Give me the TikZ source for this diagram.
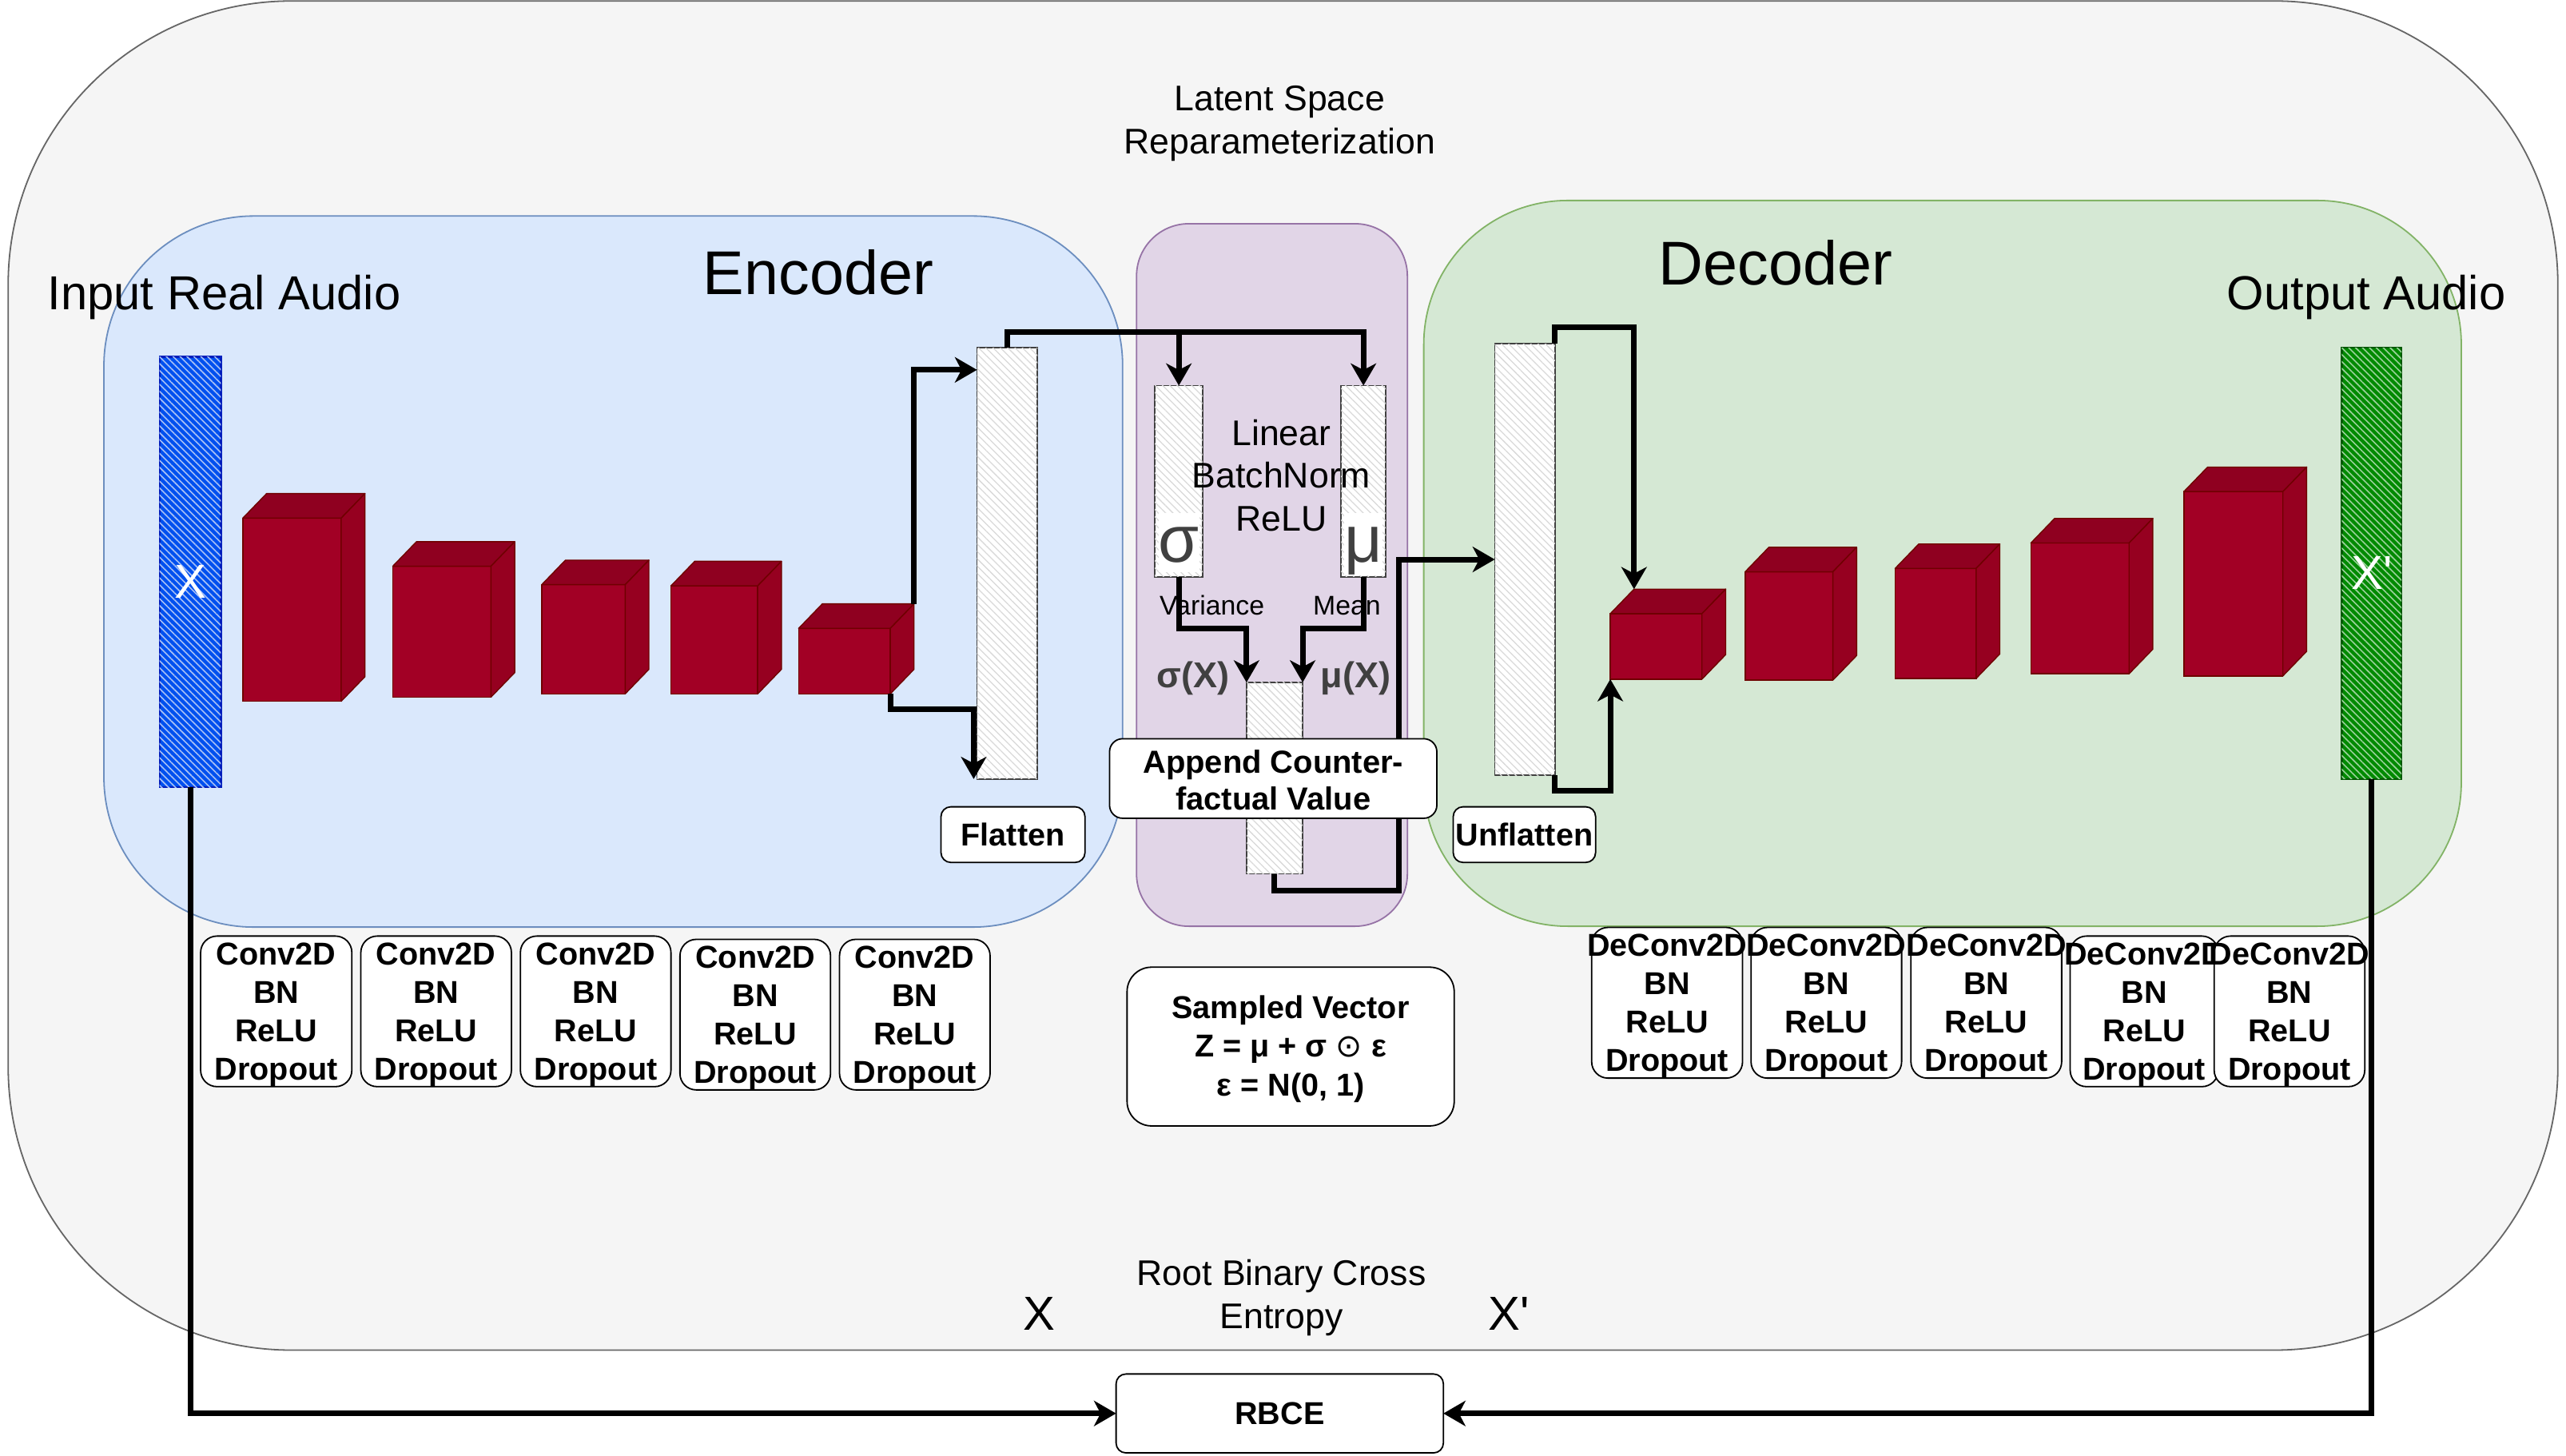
\documentclass[tikz,border=0pt]{standalone}
\usepackage{fontspec}
\setmainfont{Liberation Sans}[Ligatures=TeXOff]
\newfontfamily\dejavu{DejaVu Sans}
\usetikzlibrary{arrows.meta,patterns.meta,fit,calc}
\definecolor{outerF}{HTML}{F5F5F5}\definecolor{outerD}{HTML}{666666}
\definecolor{encF}{HTML}{DAE8FC}\definecolor{encD}{HTML}{6C8EBF}
\definecolor{latF}{HTML}{E1D5E7}\definecolor{latD}{HTML}{9673A6}
\definecolor{decF}{HTML}{D5E8D4}\definecolor{decD}{HTML}{82B366}
\definecolor{xF}{HTML}{0050EF}\definecolor{xD}{HTML}{001DBC}\definecolor{xL}{HTML}{A8C0F5}
\definecolor{xpF}{HTML}{008A00}\definecolor{xpD}{HTML}{005700}\definecolor{xpL}{HTML}{9AD09A}
\definecolor{cubeF}{HTML}{A20025}\definecolor{cubeT}{HTML}{8F0020}\definecolor{cubeS}{HTML}{960020}\definecolor{cubeD}{HTML}{6F0000}
\definecolor{gtxt}{HTML}{404040}
\newcommand\redcube[5]{%
  \node[cubefront, fit={(#2,#3)(#4,#5)}] (#1) {};
  \coordinate (#1-tl) at ($(#1.north west)+(14.5,-15)$);
  \coordinate (#1-tr) at ($(#1.north east)+(14.5,-15)$);
  \coordinate (#1-br) at ($(#1.south east)+(14.5,-15)$);
  \filldraw[cubetop] (#1.north west) -- (#1-tl) -- (#1-tr) -- (#1.north east) -- cycle;
  \filldraw[cubeside] (#1.north east) -- (#1-tr) -- (#1-br) -- (#1.south east) -- cycle;
}
\begin{document}
\begin{tikzpicture}[x=0.02cm,y=-0.02cm,
  region/.style={draw, line width=0.5pt, inner sep=0, outer sep=0},
  hatchcol/.style={draw=black!75, line width=0.5pt, fill=white, inner sep=0, outer sep=0,
    postaction={pattern={Lines[angle=-45,distance=1.8pt,line width=0.35pt]}, pattern color=black!15}},
  bar/.style={line width=0.6pt, inner sep=0, outer sep=0},
  barhatch/.style={postaction={pattern={Lines[angle=-45,distance=1.7pt,line width=0.45pt]}, pattern color=#1}},
  cubefront/.style={fill=cubeF, draw=cubeD, line width=0.4pt, inner sep=0, outer sep=0},
  cubetop/.style={fill=cubeT, draw=cubeD, line width=0.4pt, line join=round},
  cubeside/.style={fill=cubeS, draw=cubeD, line width=0.4pt, line join=round},
  wbox/.style={draw=black, line width=0.5pt, fill=white, inner sep=0, outer sep=0, rounded corners=#1},
  wbox/.default=0.2cm,
  f12/.style={font=\fontsize{12.4}{14.8}\selectfont, align=center, inner sep=0},
  fb/.style={font=\bfseries\fontsize{11}{13.4}\selectfont, align=center, inner sep=0},
  ftitle/.style={font=\fontsize{21.5}{25}\selectfont, inner sep=0},
  fio/.style={font=\fontsize{16.6}{20}\selectfont, inner sep=0},
  conn/.style={draw=black, line width=1.95pt, -{Stealth[length=0.27cm,width=0.31cm,inset=0.08cm]}}
]
\useasboundingbox (0,0) rectangle (1568,889.24);
% regions
\node[region, draw=outerD, fill=outerF, rounded corners=3.46cm, fit={(5,0.6)(1563,825)}] (outer) {};
\node[region, draw=encD, fill=encF, rounded corners=1.83cm, fit={(63.5,132)(686,566.5)}] (encreg) {};
\node[region, draw=latD, fill=latF, rounded corners=0.64cm, fit={(694.5,136.7)(860,566)}] (latreg) {};
\node[region, draw=decD, fill=decF, rounded corners=1.76cm, fit={(870,122.5)(1504,566)}] (decreg) {};
% region titles
\node[f12] (lat) at (782,75.5) {Latent Space\\Reparameterization};
\node[ftitle, anchor=base] (enc) at (500,180) {Encoder};
\node[ftitle, anchor=base] (dec) at (1085,174.3) {Decoder};
\node[fio, anchor=base] (inp) at (137,189) {Input Real Audio};
\node[fio, anchor=base] (outp) at (1446,189) {Output Audio};
% audio bars
\node[bar, fill=xF, draw=xD, barhatch=xL, fit={(97.5,218)(135,481)}] (xbar) {};
\node[bar, fill=xpF, draw=xpD, barhatch=xpL, fit={(1431,212.5)(1467.5,476)}] (xpbar) {};
\node[fio, text=white, anchor=base] (xin) at (116.5,365.6) {X};
\node[fio, text=white, anchor=base] (xout) at (1449.5,360) {X'};
% hatched columns
\node[hatchcol, fit={(597,212.5)(634,476)}] (flat) {};
\node[hatchcol, fit={(705.7,235.6)(735,352.5)}] (sig) {};
\node[hatchcol, fit={(819.5,235.6)(846.8,352.5)}] (mu) {};
\node[hatchcol, fit={(761.7,417)(796,534)}] (app) {};
\node[hatchcol, fit={(913.4,210)(950.2,473.7)}] (unfl) {};
% sigma / mu glyphs
\node[fill=white, inner sep=0, minimum width=0.46cm, text height=0.6cm, text depth=0.12cm, anchor=base, text=gtxt, font=\fontsize{23}{26}\selectfont] (sgl) at (720.3,343.5) {σ};
\node[fill=white, inner sep=0, minimum width=0.46cm, text height=0.6cm, text depth=0.16cm, anchor=base, text=gtxt, font=\fontsize{23}{26}\selectfont] (mgl) at (833,343.5) {μ};
\node[f12] (lin) at (783,290.5) {Linear\\BatchNorm\\ReLU};
\node[font=\fontsize{9.4}{11}\selectfont, inner sep=0, anchor=base] (var) at (740.6,375.7) {Variance};
\node[font=\fontsize{9.4}{11}\selectfont, inner sep=0, anchor=base] (mean) at (823,375.7) {Mean};
\node[font=\bfseries\fontsize{12.5}{15}\selectfont, text=gtxt, inner sep=0, anchor=base] (sx) at (729,420) {σ(X)};
\node[font=\bfseries\fontsize{12.5}{15}\selectfont, text=gtxt, inner sep=0, anchor=base] (mx) at (828.5,420) {μ(X)};
% cubes
\redcube{e1}{148.4}{316.6}{208.5}{428.5}
\redcube{e2}{240}{346}{300}{426}
\redcube{e3}{331}{357.3}{382}{424}
\redcube{e4}{410}{358}{463}{424}
\redcube{e5}{488}{384}{544}{424}
\redcube{d1}{984}{375}{1040}{415}
\redcube{d2}{1066.4}{349.4}{1120}{415.6}
\redcube{d3}{1158}{347.4}{1207.5}{414.6}
\redcube{d4}{1241}{331.8}{1301}{411.7}
\redcube{d5}{1334.5}{300.4}{1395}{413}
% arrows
\coordinate (tl) at ($(flat.north)+(0,-9.8)$);
\draw[conn] (e5-tr) |- ($(flat.north west)+(0,13.5)$);
\draw[conn] (e5.south east) -- ++(0,9.6) -| ($(flat.south west)+(-2,0)$);
\draw[conn] (flat.north) -- (tl) -| (mu.north);
\draw[conn] (sig.north |- tl) -- (sig.north);
\draw[conn] (sig.south) -- ++(0,31.5) -| (app.north west);
\draw[conn] (mu.south) -- ++(0,31.5) -| (app.north east);
\draw[conn] (app.south) -- ++(0,10) -| ($(unfl.west)+(-58.6,0)$) -- (unfl.west);
\draw[conn] (unfl.north east) -- ++(0,-10) -| (d1-tl);
\draw[conn] (unfl.south east) -- ++(0,9.3) -| (d1.south west);
% label boxes
\node[wbox=0.16cm, fit={(678,451.4)(878,500)}] (appbox) {};
\node[fb, font=\bfseries\fontsize{11.1}{13}\selectfont] (appt) at ($(appbox.center)+(0,1)$) {Append Counter-\\factual Value};
\node[wbox=0.12cm, fit={(575,493)(663,527)}] (flbox) {};
\node[fb] (flt) at (flbox.center) {Flatten};
\node[wbox=0.12cm, fit={(888,493)(975,527)}] (ufbox) {};
\node[fb] (uft) at (ufbox.center) {Unflatten};
\foreach \n/\a/\b/\t/\u in {1/122.6/215/572/664, 2/220.5/312.5/572/664, 3/318/410/572/664, 4/415.5/507.5/574/666, 5/513/605/574/666}{
  \node[wbox, fit={(\a,\t)(\b,\u)}] (cv\n) {};
  \node[fb] (cvt\n) at ($(cv\n.center)+(0,2)$) {Conv2D\\BN\\ReLU\\Dropout};
}
\foreach \n/\a/\b/\t/\u in {1/972.6/1064.8/566.7/658.8, 2/1070/1162/566.7/658.8, 3/1167.7/1259.8/566.7/658.8, 4/1265/1355.5/572/664, 5/1353/1445/572/664}{
  \node[wbox, fit={(\a,\t)(\b,\u)}] (dc\n) {};
  \node[fb] (dct\n) at ($(dc\n.center)+(0,2)$) {DeConv2D\\BN\\ReLU\\Dropout};
}
\node[wbox=0.3cm, fit={(688.7,591)(888.6,688)}] (samp) {};
\node[fb] (sampt) at ($(samp.center)+(0,1.5)$) {Sampled Vector\\Z = μ + σ {\dejavu\mdseries ⊙} ε\\ε = N(0, 1)};
\node[f12] (rbt) at (783,793) {Root Binary Cross\\Entropy};
\node[fio, anchor=base] (xl) at (635,812.7) {X};
\node[fio, anchor=base] (xpl) at (922,812.7) {X'};
\node[wbox=0.12cm, fit={(682,839.6)(882,887.8)}] (rbce) {};
\node[fb] (rbcet) at (rbce.center) {RBCE};
\draw[conn] (xbar.south) |- (rbce.west);
\draw[conn] (xpbar.south) |- (rbce.east);
\end{tikzpicture}
\end{document}
